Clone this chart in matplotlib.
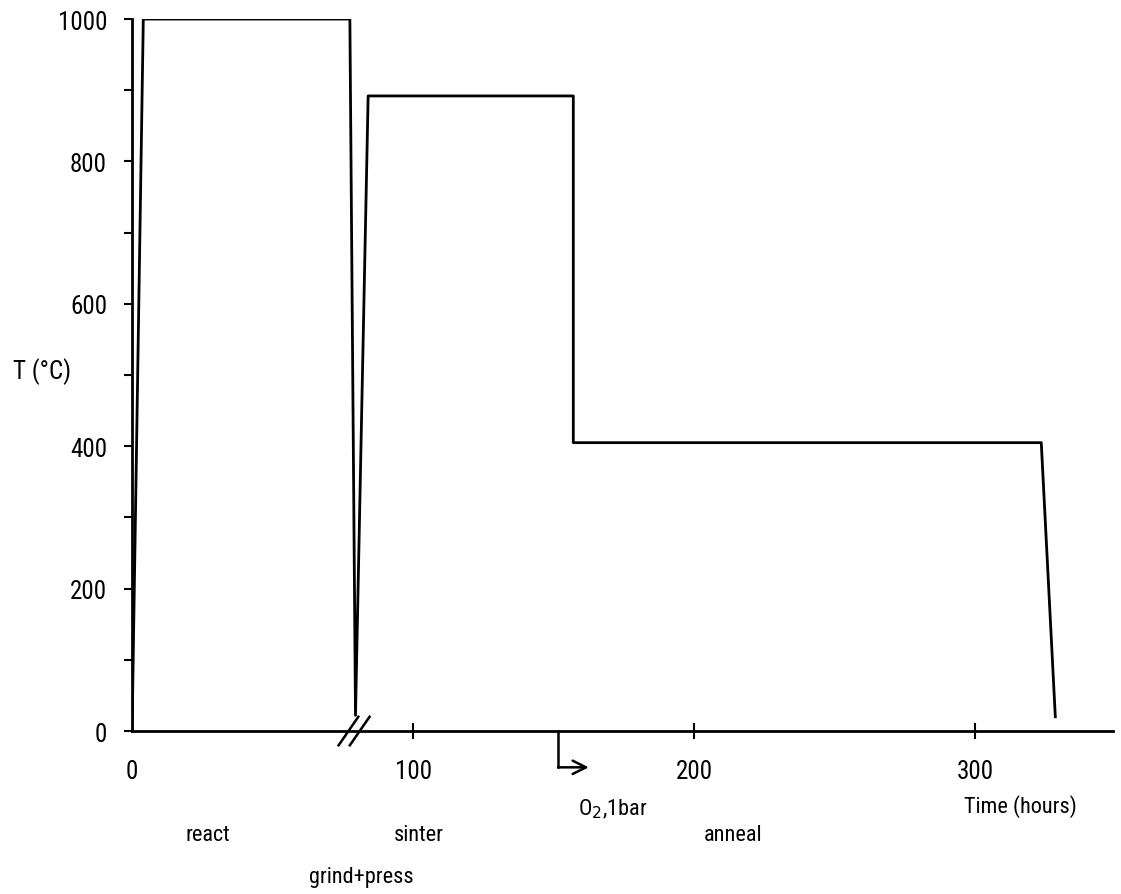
import matplotlib.pyplot as plt

# heat treatment schedule
time_h = [0, 4, 77.5, 79.5, 84, 157, 157, 323.5, 328.5]
temp_c = [0, 1000, 1000, 22, 892, 892, 405, 405, 20]

y_ticks = [0, 200, 400, 600, 800, 1000]
x_ticks = [0, 100, 200, 300]

# stage labels: (text, x in hours, y in deg C)
stages = [("react", 27, -145),
          ("sinter", 102, -145),
          ("anneal", 214, -145),
          ("grind+press", 81.5, -204)]

plt.rcParams['font.family'] = ['Roboto Condensed', 'DejaVu Sans Condensed',
                               'Liberation Sans Narrow', 'Roboto', 'DejaVu Sans']

fig = plt.figure(figsize=(11.21, 8.95), dpi=100)
ax = fig.add_axes([0.1178, 0.1821, 0.875, 0.7955])

ax.plot(time_h, temp_c, color='black', lw=2.0, solid_joinstyle='round')

ax.set_xlim(0, 349)
ax.set_ylim(0, 1000)
ax.spines['top'].set_visible(False)
ax.spines['right'].set_visible(False)
for s in ['left', 'bottom']:
    ax.spines[s].set_linewidth(2.0)

ax.set_yticks(range(0, 1001, 100))
ax.set_yticklabels([str(v) if v in y_ticks else "" for v in range(0, 1001, 100)])
ax.set_xticks(x_ticks)
ax.tick_params(axis='y', direction='out', length=6, width=1.5, labelsize=18, pad=12)
ax.tick_params(axis='x', direction='inout', length=12, width=1.5, labelsize=18, pad=14)
ax.xaxis.get_major_ticks()[0].tick1line.set_visible(False)

ax.text(-32, 506, "T (°C)", fontsize=18, ha='center', va='center', clip_on=False)
ax.text(316, -105, "Time (hours)", fontsize=16, ha='center', va='center', clip_on=False)
ax.text(171, -108, "O$_2$,1bar", fontsize=16, ha='center', va='center', clip_on=False)
for label, x, y in stages:
    ax.text(x, y, label, fontsize=16, ha='center', va='center', clip_on=False)

# axis break marker on the time axis
for xc in (77, 81):
    ax.plot([xc - 3.5, xc + 3.5], [-20, 20], color='black', lw=1.8, clip_on=False)

# oxygen switch arrow: down from the axis, then to the right
ax.plot([151.6, 151.6], [0, -51], color='black', lw=1.8, clip_on=False)
ax.annotate("", xy=(162.5, -51), xytext=(151.6, -51),
            arrowprops=dict(arrowstyle='->', color='black', lw=1.8,
                            mutation_scale=24, shrinkA=0, shrinkB=0),
            annotation_clip=False)

fig.savefig("out.png", dpi=100)
